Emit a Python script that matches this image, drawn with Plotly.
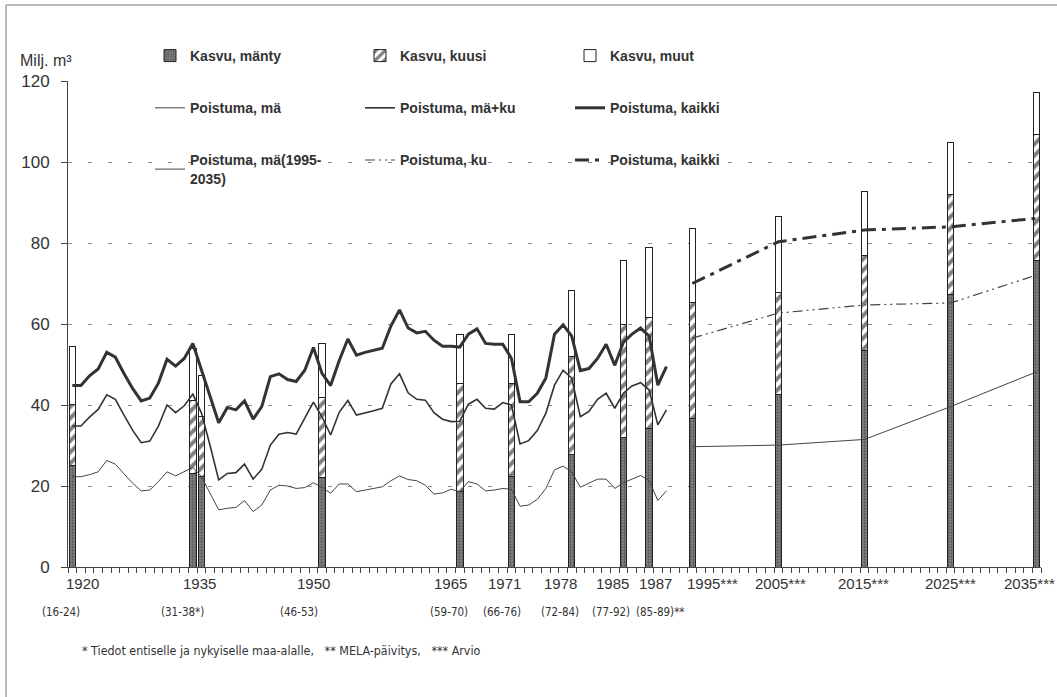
import plotly.graph_objects as go

# Annual drain 1920-1989, milj. m3
years = list(range(1920, 1990))
drain_pine = [
    22.3, 22.3, 22.8, 23.5, 26.3, 25.4, 23.0, 20.7, 18.8, 19.0,
    21.1, 23.5, 22.5, 23.5, 24.6, 22.3, 18.3, 14.1, 14.5, 14.7,
    16.4, 13.7, 15.3, 19.0, 20.2, 20.0, 19.4, 19.6, 20.8, 19.7,
    18.2, 20.5, 20.5, 18.6, 19.0, 19.4, 19.8, 21.3, 22.5, 21.6,
    21.3, 20.2, 18.0, 18.3, 19.2, 18.6, 21.1, 20.5, 18.8, 19.0,
    19.4, 19.2, 15.0, 15.3, 16.7, 19.4, 24.0, 24.9, 23.5, 19.7,
    20.7, 21.7, 21.7, 19.4, 20.8, 21.7, 22.6, 21.3, 16.4, 18.8,
]
drain_pine_spruce = [
    34.8, 34.8, 37.0, 38.9, 42.5, 41.4, 37.5, 33.8, 30.7, 31.1,
    34.8, 40.0, 38.1, 39.8, 42.7, 38.0, 30.0, 21.5, 23.1, 23.3,
    25.4, 21.7, 24.1, 30.1, 32.8, 33.2, 32.8, 36.7, 40.7, 37.1,
    32.6, 38.2, 41.1, 37.5, 38.0, 38.6, 39.2, 45.2, 47.7, 43.0,
    41.4, 41.2, 38.1, 36.5, 35.9, 36.0, 40.2, 41.4, 39.2, 39.0,
    40.6, 40.0, 30.4, 31.2, 33.7, 38.0, 44.9, 48.6, 46.6, 37.1,
    38.4, 41.4, 42.9, 39.2, 42.9, 44.7, 45.5, 43.7, 35.1, 38.8,
]
drain_total = [
    44.8, 44.8, 47.2, 48.9, 53.0, 51.8, 47.8, 44.1, 41.0, 41.7,
    45.4, 51.3, 49.6, 51.5, 55.2, 48.6, 42.0, 35.6, 39.4, 38.8,
    41.0, 36.5, 39.6, 47.0, 47.7, 46.3, 45.8, 48.6, 54.2, 47.8,
    44.8, 51.0, 56.3, 52.3, 53.0, 53.5, 54.0, 59.5, 63.5, 59.0,
    57.8, 58.2, 56.0, 54.5, 54.5, 54.3, 57.5, 58.8, 55.2, 55.0,
    55.0, 51.5, 40.8, 40.8, 42.9, 46.7, 57.5, 59.8, 57.0, 48.5,
    49.0, 51.5, 55.0, 49.8, 55.5, 57.5, 59.0, 57.0, 44.9, 49.5,
]

# Growth by inventory (bars), milj. m3
inv_year = [1920, 1934, 1935, 1949, 1965, 1971, 1978, 1984, 1987,
            1995, 2005, 2015, 2025, 2035]
inv_label = ["1920", "1935", "1935", "1950", "1965", "1971", "1978", "1985", "1987",
             "1995***", "2005***", "2015***", "2025***", "2035***"]
inv_period = ["(16-24)", "(31-38*)", "(31-38*)", "(46-53)", "(59-70)", "(66-76)",
              "(72-84)", "(77-92)", "(85-89)**", "", "", "", "", ""]
growth_pine = [25.0, 23.0, 22.3, 22.0, 18.6, 22.3, 27.7, 32.0, 34.2,
               36.7, 42.5, 53.5, 67.2, 75.8]
growth_spruce = [15.2, 18.0, 14.8, 19.9, 26.6, 22.9, 24.3, 27.8, 27.3,
                 28.5, 25.4, 23.5, 24.7, 31.1]
growth_other = [14.3, 13.0, 10.1, 13.3, 12.1, 12.1, 16.3, 16.0, 17.5,
                18.5, 18.6, 15.7, 12.9, 10.3]

# Projected drain 1995-2035
proj_years = [1995, 2005, 2015, 2025, 2035]
proj_pine = [29.7, 30.1, 31.5, 39.6, 48.2]
proj_spruce = [56.5, 62.7, 64.7, 65.2, 72.1]
proj_total = [70.0, 80.3, 83.2, 84.0, 86.1]

y_ticks = [0, 20, 40, 60, 80, 100, 120]


def axis_pos(year):
    # one slot per year up to 1989; the forecast decades follow after a short gap
    return year - 1920 if year < 1990 else year - 1923


FONT = "Liberation Sans, Arial, Helvetica, sans-serif"
NARROW = "DejaVu Sans Condensed, Arial Narrow, sans-serif"
INK = "#222222"

bar_x = [axis_pos(y) for y in inv_year]
hist_x = [axis_pos(y) for y in years]
proj_x = [axis_pos(y) for y in proj_years]

fig = go.Figure()

fig.add_trace(go.Bar(
    x=bar_x, y=growth_pine, width=0.75, name="Kasvu, mänty",
    legend="legend", legendgroup="g1",
    marker=dict(color="#6e6e6e",
                pattern=dict(shape=".", fgcolor="#2a2a2a", bgcolor="#858585",
                             size=3, solidity=0.45),
                line=dict(color=INK, width=1)),
))
fig.add_trace(go.Bar(
    x=bar_x, y=growth_spruce, width=0.75, name="Kasvu, kuusi",
    legend="legend2", legendgroup="g2",
    marker=dict(color="white",
                pattern=dict(shape="/", fgcolor="#000000", bgcolor="white",
                             size=8, solidity=0.5),
                line=dict(color=INK, width=1)),
))
fig.add_trace(go.Bar(
    x=bar_x, y=growth_other, width=0.75, name="Kasvu, muut",
    legend="legend3", legendgroup="g3",
    marker=dict(color="white", line=dict(color=INK, width=1)),
))

fig.add_trace(go.Scatter(
    x=hist_x, y=drain_pine, mode="lines", name="Poistuma, mä",
    legend="legend", legendgroup="g4",
    line=dict(color="#444444", width=1),
))
fig.add_trace(go.Scatter(
    x=hist_x, y=drain_pine_spruce, mode="lines", name="Poistuma, mä+ku",
    legend="legend2", legendgroup="g5",
    line=dict(color="#333333", width=1.6),
))
fig.add_trace(go.Scatter(
    x=hist_x, y=drain_total, mode="lines", name="Poistuma, kaikki",
    legend="legend3", legendgroup="g6",
    line=dict(color="#333333", width=3),
))

fig.add_trace(go.Scatter(
    x=proj_x, y=proj_pine, mode="lines", name="Poistuma, mä(1995-<br>2035)",
    legend="legend", legendgroup="g7",
    line=dict(color="#444444", width=1),
))
fig.add_trace(go.Scatter(
    x=proj_x, y=proj_spruce, mode="lines", name="Poistuma, ku",
    legend="legend2", legendgroup="g8",
    line=dict(color="#444444", width=1.2, dash="10px,4px,2px,4px,2px,4px"),
))
fig.add_trace(go.Scatter(
    x=proj_x, y=proj_total, mode="lines", name="Poistuma, kaikki",
    legend="legend3", legendgroup="g9",
    line=dict(color="#333333", width=3, dash="14px,6px,4px,6px"),
))

# plot area in pixels: x 68..1041, y 81..567
L, R, T, B = 68, 16, 81, 130
W, H = 1057, 697
pw, ph = W - L - R, H - T - B


def px_x(px):
    return (px - L) / pw


def px_y(py):
    return (H - B - py) / ph


legend_style = dict(
    bgcolor="rgba(0,0,0,0)", borderwidth=0, xanchor="left", yanchor="top",
    y=px_y(40), traceorder="grouped", tracegroupgap=31,
    font=dict(family=FONT, size=14, color="#333333", weight="bold"),
)

# horizontal nudges (px) that keep neighbouring axis labels apart
year_nudge = {"1920": 10, "1935": 2, "1950": -9, "1965": -9, "1971": -7,
              "1978": -11, "1985": -11, "1987": 6, "1995***": 20, "2005***": 2,
              "2015***": -1, "2025***": 0, "2035***": 0}
period_nudge = {"(16-24)": -11, "(31-38*)": -15, "(46-53)": -23, "(59-70)": -11,
                "(66-76)": -9, "(72-84)": -12, "(77-92)": -12, "(85-89)**": 11}

label_pos = {}
for lab, per, xp in zip(inv_label, inv_period, bar_x):
    label_pos.setdefault((lab, per), []).append(xp)

annotations = []
for (lab, per), xs in label_pos.items():
    xc = sum(xs) / len(xs)
    last = xc >= max(bar_x)
    annotations.append(dict(
        x=xc, xref="x", y=0, yref="paper", yanchor="top", yshift=-6,
        xanchor="right" if last else "center",
        xshift=20 if last else year_nudge.get(lab, 0),
        text=lab, showarrow=False,
        font=dict(family=FONT, size=15, color="#333333"),
    ))
    if per:
        annotations.append(dict(
            x=xc, xref="x", y=0, yref="paper", yanchor="top", yshift=-36,
            xshift=period_nudge.get(per, 0), text=per, showarrow=False,
            font=dict(family=NARROW, size=11.5, color="#333333"),
        ))

annotations.append(dict(
    x=0, xref="paper", xanchor="right", xshift=6,
    y=1, yref="paper", yanchor="bottom", yshift=10,
    text="Milj. m³", showarrow=False,
    font=dict(family=FONT, size=16, color="#333333"),
))
annotations.append(dict(
    x=px_x(80), xref="paper", xanchor="left",
    y=0, yref="paper", yanchor="middle", yshift=-(650 - (H - B)),
    text="* Tiedot entiselle ja nykyiselle maa-alalle,   ** MELA-päivitys,   *** Arvio",
    showarrow=False,
    font=dict(family=NARROW, size=12.4, color="#333333"),
))

shapes = [
    # white legend panel hiding the gridlines behind it
    dict(type="rect", xref="paper", yref="paper", layer="between",
         x0=px_x(112), x1=px_x(768), y0=px_y(210), y1=px_y(38),
         fillcolor="white", line=dict(width=0)),
    # page frame (top and left edges)
    dict(type="line", xref="paper", yref="paper",
         x0=px_x(6), x1=px_x(W), y0=px_y(5), y1=px_y(5),
         line=dict(color="#777777", width=1)),
    dict(type="line", xref="paper", yref="paper",
         x0=px_x(6), x1=px_x(6), y0=px_y(5), y1=px_y(H),
         line=dict(color="#777777", width=1)),
]

fig.update_layout(
    width=W, height=H,
    margin=dict(l=L, r=R, t=T, b=B, pad=0),
    paper_bgcolor="white", plot_bgcolor="white",
    barmode="stack",
    hovermode=False,
    font=dict(family=FONT, color="#333333"),
    legend=dict(legend_style, x=px_x(150)),
    legend2=dict(legend_style, x=px_x(360)),
    legend3=dict(legend_style, x=px_x(570)),
    annotations=annotations,
    shapes=shapes,
    xaxis=dict(
        range=[-0.5, 112.5], showline=True, linecolor="#444444", linewidth=1,
        ticks="", showticklabels=False, showgrid=False, zeroline=False,
        minor=dict(ticks="outside", ticklen=5, tickcolor="#444444",
                   tick0=-0.5, dtick=1, showgrid=False),
    ),
    yaxis=dict(
        range=[0, 120], tickvals=y_ticks, ticks="outside", ticklen=6,
        tickcolor="#444444", showline=True, linecolor="#444444", linewidth=1,
        showgrid=True, gridcolor="#8c8c8c", gridwidth=1, griddash="4px,16px",
        zeroline=False, ticklabelstandoff=8,
        tickfont=dict(family=FONT, size=17, color="#333333"),
    ),
)

fig.write_html("out.html")
